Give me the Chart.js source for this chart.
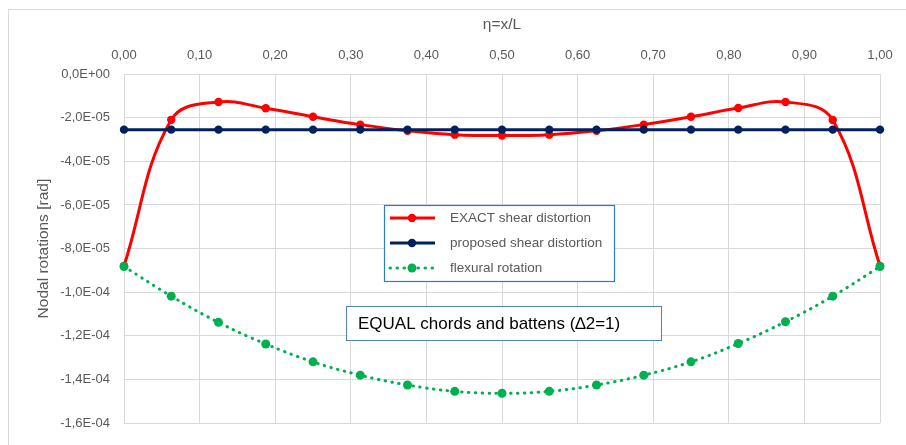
<!DOCTYPE html>
<html>
<head>
<meta charset="utf-8">
<script src="https://cdn.jsdelivr.net/npm/chart.js@4.4.1/dist/chart.umd.min.js"></script>
<style>
  html, body { margin: 0; padding: 0; background: #fff; }
  #wrap { width: 906px; height: 445px; }
</style>
</head>
<body>
<div id="wrap"><canvas id="rotChart" width="906" height="445"></canvas></div>
<script>
// eta = x/L positions of the nodes
const eta = [0, 0.0625, 0.125, 0.1875, 0.25, 0.3125, 0.375, 0.4375, 0.5,
             0.5625, 0.625, 0.6875, 0.75, 0.8125, 0.875, 0.9375, 1];

// nodal rotations [rad]
const exactShear = [-8.8e-5, -2.1e-5, -1.28e-5, -1.57e-5, -1.96e-5, -2.32e-5, -2.6e-5, -2.78e-5, -2.82e-5,
                    -2.78e-5, -2.6e-5, -2.32e-5, -1.96e-5, -1.56e-5, -1.28e-5, -2.11e-5, -8.8e-5];
const proposedShear = [-2.55e-5, -2.55e-5, -2.55e-5, -2.55e-5, -2.55e-5, -2.55e-5, -2.55e-5, -2.55e-5, -2.55e-5,
                       -2.55e-5, -2.55e-5, -2.55e-5, -2.55e-5, -2.55e-5, -2.55e-5, -2.55e-5, -2.55e-5];
const flexural = [-8.82e-5, -1.018e-4, -1.138e-4, -1.237e-4, -1.319e-4, -1.38e-4, -1.425e-4, -1.454e-4, -1.463e-4,
                  -1.454e-4, -1.425e-4, -1.38e-4, -1.319e-4, -1.235e-4, -1.135e-4, -1.018e-4, -8.82e-5];

const seriesNames = ['EXACT shear distortion', 'proposed shear distortion', 'flexural rotation'];
const noteText = 'EQUAL chords and battens (\u22062=1)';

const FONT = '"Liberation Sans", Arial, sans-serif';
const GRID = '#d9d9d9';
const GREY = '#595959';

function toPoints(vals) {
    return vals.map((v, i) => ({ x: eta[i], y: v }));
}

function sci(v) {
    if (v === 0) return '0,0E+00';
    const parts = v.toExponential(1).split('e');
    const n = parseInt(parts[1], 10);
    return parts[0].replace('.', ',') + 'E' + (n < 0 ? '-' : '+') + String(Math.abs(n)).padStart(2, '0');
}

// legend box and note box drawn inside the plot
const boxesPlugin = {
    id: 'boxes',
    afterDraw(chart) {
        const ctx = chart.ctx;
        const sets = chart.data.datasets;
        ctx.save();

        // outer chart frame
        ctx.strokeStyle = GRID;
        ctx.lineWidth = 1;
        ctx.strokeRect(8.5, 9.5, 1000, 1000);

        // legend
        const lx = 384, ly = 205, lw = 230, lh = 76;
        ctx.fillStyle = '#fff';
        ctx.fillRect(lx, ly, lw, lh);
        ctx.strokeStyle = '#2b7bd0';
        ctx.lineWidth = 1.2;
        ctx.strokeRect(lx + 0.5, ly + 0.5, lw, lh);
        ctx.font = '13.5px ' + FONT;
        ctx.textBaseline = 'middle';
        ctx.textAlign = 'left';
        sets.forEach((ds, i) => {
            const y = ly + 13 + i * 25;
            ctx.save();
            ctx.strokeStyle = ds.borderColor;
            ctx.lineWidth = ds.borderWidth;
            ctx.lineCap = ds.borderCapStyle || 'butt';
            ctx.setLineDash(ds.borderDash || []);
            ctx.beginPath();
            ctx.moveTo(lx + 6, y);
            ctx.lineTo(lx + 51, y);
            ctx.stroke();
            ctx.restore();
            ctx.fillStyle = ds.pointBackgroundColor;
            ctx.beginPath();
            ctx.arc(lx + 28, y, ds.pointRadius, 0, Math.PI * 2);
            ctx.fill();
            ctx.fillStyle = GREY;
            ctx.fillText(ds.label, lx + 66, y);
        });

        // note box
        const nx = 346, ny = 306, nw = 315, nh = 34;
        ctx.fillStyle = '#fff';
        ctx.fillRect(nx, ny, nw, nh);
        ctx.strokeStyle = '#4f7fd0';
        ctx.lineWidth = 1;
        ctx.strokeRect(nx + 0.5, ny + 0.5, nw, nh);
        ctx.fillStyle = '#000';
        ctx.font = '17px ' + FONT;
        ctx.fillText(noteText, nx + 12, ny + nh / 2 + 1);
        ctx.restore();
    }
};

const ctx = document.getElementById('rotChart').getContext('2d');
new Chart(ctx, {
    type: 'line',
    data: {
        datasets: [{
            label: seriesNames[0],
            data: toPoints(exactShear),
            borderColor: '#ff0000',
            backgroundColor: '#ff0000',
            pointBackgroundColor: '#ff0000',
            pointBorderWidth: 0,
            pointRadius: 4.2,
            borderWidth: 3,
            tension: 0.4,
            order: 3,
            clip: false
        }, {
            label: seriesNames[1],
            data: toPoints(proposedShear),
            borderColor: '#002060',
            backgroundColor: '#002060',
            pointBackgroundColor: '#002060',
            pointBorderWidth: 0,
            pointRadius: 4.2,
            borderWidth: 3,
            tension: 0,
            order: 2,
            clip: false
        }, {
            label: seriesNames[2],
            data: toPoints(flexural),
            borderColor: '#00b050',
            backgroundColor: '#00b050',
            pointBackgroundColor: '#00b050',
            pointBorderWidth: 0,
            pointRadius: 4.5,
            borderWidth: 3,
            borderDash: [0.5, 6.5],
            borderCapStyle: 'round',
            tension: 0.4,
            order: 1,
            clip: false
        }]
    },
    options: {
        responsive: false,
        animation: false,
        events: [],
        layout: { padding: { left: 0, right: 26, top: 0, bottom: 17 } },
        plugins: {
            legend: { display: false },
            tooltip: { enabled: false }
        },
        scales: {
            x: {
                type: 'linear',
                position: 'top',
                min: 0,
                max: 1,
                afterFit: (s) => { s.height = 74; },
                ticks: {
                    stepSize: 0.1,
                    padding: 11,
                    color: GREY,
                    font: { family: FONT, size: 13 },
                    maxRotation: 0,
                    callback: (v) => v.toFixed(2).replace('.', ',')
                },
                grid: { color: GRID, drawTicks: false },
                border: { color: GRID },
                title: {
                    display: true,
                    text: '\u03b7=x/L',
                    color: GREY,
                    font: { family: FONT, size: 15.5 },
                    padding: { top: 15, bottom: 0 }
                }
            },
            y: {
                min: -1.6e-4,
                max: 0,
                afterFit: (s) => { s.width = 124; },
                ticks: {
                    stepSize: 2e-5,
                    padding: 14,
                    color: GREY,
                    font: { family: FONT, size: 13 },
                    callback: (v) => sci(v)
                },
                grid: { color: GRID, drawTicks: false },
                border: { color: GRID },
                title: {
                    display: true,
                    text: 'Nodal rotations [rad]',
                    color: GREY,
                    font: { family: FONT, size: 15.5 },
                    padding: { top: 34, bottom: 0 }
                }
            }
        }
    },
    plugins: [boxesPlugin]
});
</script>
</body>
</html>
